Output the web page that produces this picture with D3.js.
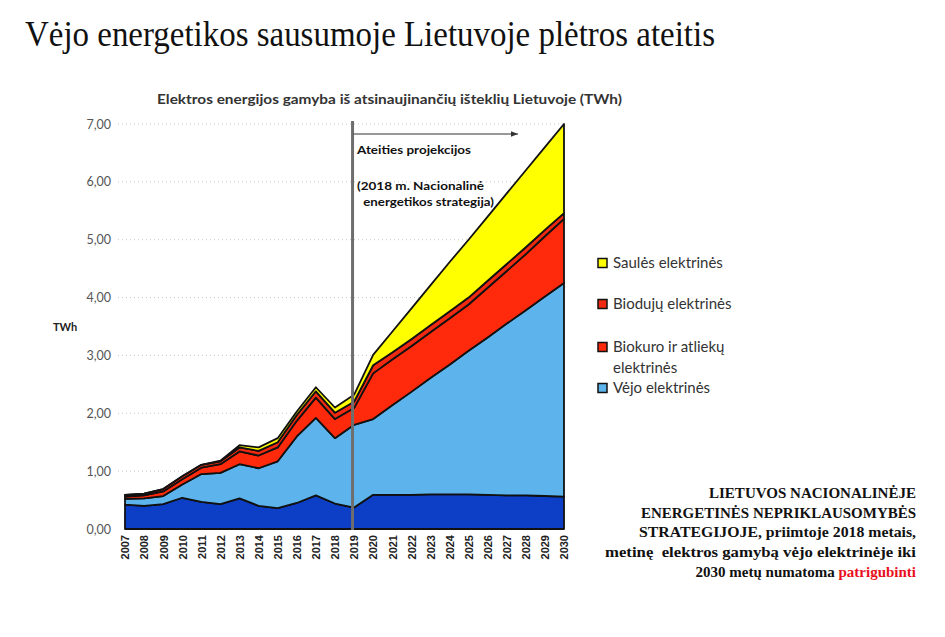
<!DOCTYPE html>
<html><head><meta charset="utf-8">
<script src="https://cdn.jsdelivr.net/npm/d3@7"></script>
<style>body{margin:0;background:#fff}svg{display:block}</style>
</head><body><svg id="c" width="945" height="637"></svg>
<script>
const years = [2007,2008,2009,2010,2011,2012,2013,2014,2015,2016,2017,2018,2019,2020,2021,2022,2023,2024,2025,2026,2027,2028,2029,2030];
const hydro   = [0.42,0.40,0.43,0.54,0.47,0.43,0.53,0.40,0.36,0.45,0.58,0.44,0.37,0.59,0.59,0.59,0.60,0.60,0.60,0.59,0.58,0.58,0.57,0.56];
const wind    = [0.10,0.13,0.14,0.23,0.48,0.54,0.59,0.65,0.81,1.15,1.34,1.13,1.43,1.31,1.55,1.78,2.01,2.24,2.48,2.72,2.97,3.20,3.45,3.69];
const biofuel = [0.04,0.05,0.08,0.09,0.11,0.15,0.22,0.22,0.24,0.27,0.35,0.33,0.29,0.79,0.79,0.79,0.79,0.80,0.80,0.86,0.91,0.97,1.04,1.11];
const biogas  = [0.03,0.03,0.04,0.05,0.05,0.05,0.07,0.08,0.09,0.10,0.11,0.11,0.11,0.14,0.12,0.12,0.12,0.12,0.12,0.12,0.12,0.12,0.11,0.10];
const solar   = [0,0,0,0,0,0.01,0.04,0.06,0.07,0.06,0.07,0.09,0.12,0.18,0.36,0.53,0.69,0.85,1.00,1.11,1.22,1.33,1.43,1.54];
const yTicks = [0,1,2,3,4,5,6,7];
const projectionYear = 2019;
const legendLabels = [["Saulės elektrinės"],["Biodujų elektrinės"],["Biokuro ir atliekų","elektrinės"],["Vėjo elektrinės"]];
const legendKeys = ["solar","biogas","biofuel","wind"];
const noteLines = ["LIETUVOS NACIONALINĖJE","ENERGETINĖS NEPRIKLAUSOMYBĖS","STRATEGIJOJE, priimtoje 2018 metais,","metinę  elektros gamybą vėjo elektrinėje iki"];
const noteLast = ["2030 metų numatoma ","patrigubinti"];

const keys = ["hydro","wind","biofuel","biogas","solar"];
const colors = {hydro:"#0c3ec6", wind:"#5db4ec", biofuel:"#ff2a0c", biogas:"#f02a10", solar:"#ffff00"};
const rows = years.map((y,i)=>({year:y, hydro:hydro[i], wind:wind[i], biofuel:biofuel[i], biogas:biogas[i], solar:solar[i]}));

const svg = d3.select("#c");
const x = d3.scaleLinear().domain([2007,2030]).range([125,564]);
const y = d3.scaleLinear().domain([0,7]).range([529,124]);

// title
svg.append("text").attr("x",25).attr("y",46).attr("font-family","Liberation Serif, serif")
  .attr("font-size",35).attr("textLength",690).attr("lengthAdjust","spacingAndGlyphs")
  .attr("fill","#111").text("Vėjo energetikos sausumoje Lietuvoje plėtros ateitis");
svg.append("text").attr("x",157).attr("y",104).attr("font-family","Lato, sans-serif").attr("font-weight","bold")
  .attr("font-size",13).attr("textLength",465).attr("lengthAdjust","spacingAndGlyphs")
  .attr("fill","#333").text("Elektros energijos gamyba iš atsinaujinančių išteklių Lietuvoje (TWh)");

// gridlines
svg.append("g").selectAll("line").data(yTicks.slice(1)).join("line")
  .attr("x1",118).attr("x2",564).attr("y1",d=>y(d)).attr("y2",d=>y(d))
  .attr("stroke","#c8c8c8").attr("stroke-dasharray","1,3");

// y axis
const ya = svg.append("g").attr("transform","translate(111,0)")
  .call(d3.axisLeft(y).tickValues(yTicks).tickSize(0).tickPadding(0).tickFormat(d=>d3.format(".2f")(d).replace(".",",")));
ya.select(".domain").remove();
ya.selectAll("text").attr("font-family","Lato, sans-serif").attr("font-size",12.5).attr("fill","#555");
svg.append("text").attr("x",53).attr("y",331).attr("font-family","Lato, sans-serif").attr("font-weight","bold")
  .attr("font-size",11).attr("fill","#222").text("TWh");

// stacked areas
const stack = d3.stack().keys(keys)(rows);
const area = d3.area().x(d=>x(d.data.year)).y0(d=>y(d[0])).y1(d=>y(d[1]));
svg.append("g").selectAll("path").data(stack).join("path")
  .attr("d",area).attr("fill",d=>colors[d.key]).attr("stroke","#111").attr("stroke-width",1.8)
  .attr("stroke-linejoin","round");

// x axis labels
const xa = svg.append("g").attr("transform","translate(0,531)")
  .call(d3.axisBottom(x).tickValues(years).tickSize(0).tickFormat(d3.format("d")));
xa.select(".domain").remove();
xa.selectAll("text").attr("font-family","Liberation Sans, sans-serif").attr("font-weight","bold")
  .attr("font-size",11).attr("fill","#222").attr("text-anchor","end")
  .attr("transform","rotate(-90)").attr("x",-4).attr("y",0).attr("dy","0.35em");

// projection line & arrow
const px = x(projectionYear)-1.5;
svg.append("line").attr("x1",px).attr("x2",px).attr("y1",121).attr("y2",530)
  .attr("stroke","#6e6e6e").attr("stroke-width",3);
svg.append("defs").append("marker").attr("id","ah").attr("viewBox","0 0 10 10").attr("refX",10).attr("refY",5)
  .attr("markerWidth",7).attr("markerHeight",7).attr("orient","auto")
  .append("path").attr("d","M0,1L10,5L0,9Z").attr("fill","#333");
svg.append("line").attr("x1",px+1).attr("x2",518).attr("y1",134).attr("y2",134)
  .attr("stroke","#333").attr("stroke-width",1).attr("marker-end","url(#ah)");
const ann = [["Ateities projekcijos",357,154,114],["(2018 m. Nacionalinė",357,190,127],[" energetikos strategija)",360,206,134]];
svg.append("g").selectAll("text").data(ann).join("text")
  .attr("x",d=>d[1]).attr("y",d=>d[2]).attr("textLength",d=>d[3]).attr("lengthAdjust","spacingAndGlyphs")
  .attr("font-family","Lato, sans-serif").attr("font-weight","bold").attr("font-size",12).attr("fill","#111")
  .attr("xml:space","preserve").text(d=>d[0]);

// legend
const legY = [263,304,347,388];
const lg = svg.append("g");
legendKeys.forEach((k,i)=>{
  lg.append("rect").attr("x",598).attr("y",legY[i]-4.5).attr("width",9).attr("height",9)
    .attr("fill",colors[k]).attr("stroke","#111").attr("stroke-width",1.5);
  legendLabels[i].forEach((t,j)=>{
    lg.append("text").attr("x",613).attr("y",legY[i]+4.5+j*21).attr("font-family","Lato, sans-serif")
      .attr("font-size",15).attr("fill","#333").text(t);
  });
});

// note
const noteWidths = [207,275,277,311];
const ng = svg.append("g").attr("font-family","Liberation Serif, serif").attr("font-weight","bold")
  .attr("font-size",15).attr("text-anchor","end");
noteLines.forEach((t,i)=>{
  ng.append("text").attr("x",916).attr("y",498+i*19.7).attr("fill","#111").attr("xml:space","preserve")
    .attr("textLength",noteWidths[i]).attr("lengthAdjust","spacingAndGlyphs").text(t);
});
const nl = ng.append("text").attr("x",916).attr("y",577);
nl.append("tspan").attr("fill","#111").attr("xml:space","preserve").text(noteLast[0]);
nl.append("tspan").attr("fill","#e8101c").text(noteLast[1]);
</script></body></html>
